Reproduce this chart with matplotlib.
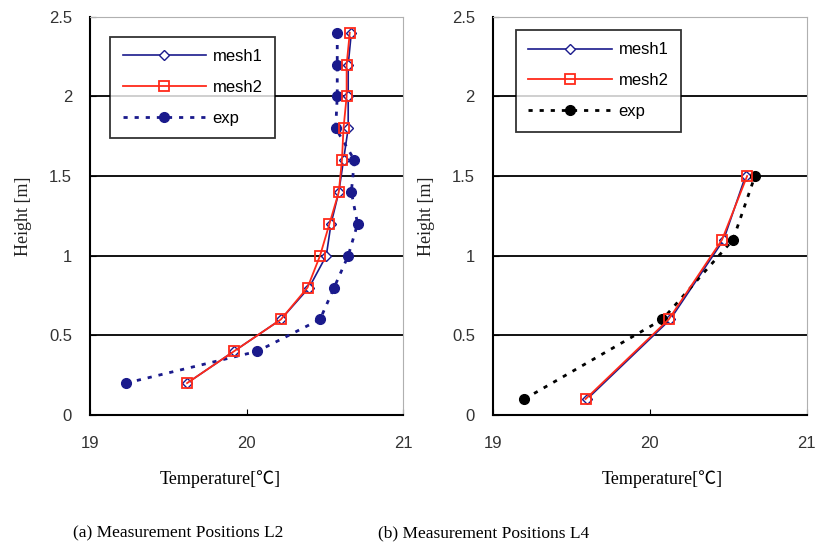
import numpy as np
import matplotlib
matplotlib.use('Agg')
import matplotlib.pyplot as plt

# L2 data (temperature vs height)
h_l2 = [0.2, 0.4, 0.6, 0.8, 1.0, 1.2, 1.4, 1.6, 1.8, 2.0, 2.2, 2.4]
mesh1_l2 = [19.62, 19.92, 20.22, 20.40, 20.51, 20.54, 20.59, 20.62, 20.65, 20.65, 20.65, 20.67]
mesh2_l2 = [19.62, 19.92, 20.22, 20.39, 20.47, 20.53, 20.59, 20.61, 20.62, 20.64, 20.64, 20.66]
exp_l2 = [19.23, 20.07, 20.47, 20.56, 20.65, 20.71, 20.67, 20.69, 20.57, 20.58, 20.58, 20.58]

# L4 data
h_l4 = [0.1, 0.6, 1.1, 1.5]
mesh1_l4 = [19.60, 20.13, 20.47, 20.61]
mesh2_l4 = [19.59, 20.12, 20.46, 20.62]
exp_l4 = [19.20, 20.08, 20.53, 20.67]

yticks = [0, 0.5, 1, 1.5, 2, 2.5]
xticks = [19, 20, 21]

navy = '#1a1a8c'
red = '#ff2a1a'

fig = plt.figure(figsize=(8.19, 5.5), dpi=100)
ax1 = fig.add_axes([0.110, 0.2455, 0.382, 0.724])
ax2 = fig.add_axes([0.602, 0.2455, 0.383, 0.724])

tick_font = {'family': 'Liberation Sans', 'size': 12}
serif = ['Liberation Serif', 'Noto Sans CJK JP']


def setup(ax, h, m1, m2, ex, exp_color, anchor):
    for y in [0.5, 1.0, 1.5, 2.0]:
        ax.axhline(y, color='black', lw=1.3, zorder=1)
    ax.plot(m1, h, color=navy, lw=1.2, marker='D', ms=5, mfc='white',
            mec=navy, mew=1.0, label='mesh1', zorder=3)
    ax.plot(m2, h, color=red, lw=1.3, marker='s', ms=7, mfc='none',
            mec=red, mew=1.3, label='mesh2', zorder=4)
    ax.plot(ex, h, color=exp_color, lw=2.0, ls=(0, (1.5, 2.5)), marker='o',
            ms=7, mfc=exp_color, mec=exp_color, label='exp', zorder=3)
    ax.set_xlim(19, 21)
    ax.set_ylim(0, 2.5)
    ax.set_xticks(xticks)
    ax.set_yticks(yticks)
    ax.set_xticklabels([str(t) for t in xticks], fontdict=tick_font, color='#333333')
    ax.set_yticklabels(['0', '0.5', '1', '1.5', '2', '2.5'], fontdict=tick_font, color='#333333')
    ax.tick_params(axis='x', direction='in', length=4, pad=15, top=False)
    ax.tick_params(axis='y', direction='in', length=4, pad=13)
    ax.spines['left'].set_linewidth(1.5)
    ax.spines['bottom'].set_linewidth(1.5)
    ax.spines['top'].set_color('#b0b0b0')
    ax.spines['right'].set_color('#b0b0b0')
    leg = ax.legend(loc='upper left', bbox_to_anchor=anchor, frameon=True,
                    fancybox=False, edgecolor='black', handlelength=5.0,
                    prop={'family': 'Liberation Sans', 'size': 12},
                    labelspacing=0.95, borderpad=0.75, handletextpad=0.4,
                    borderaxespad=0)
    leg.get_frame().set_linewidth(1.3)
    leg.set_zorder(10)
    ax.set_ylabel('Height [m]', family=serif, fontsize=13, color='#222222', labelpad=12)


setup(ax1, h_l2, mesh1_l2, mesh2_l2, exp_l2, navy, (0.064, 0.95))
setup(ax2, h_l4, mesh1_l4, mesh2_l4, exp_l4, 'black', (0.073, 0.967))

fig.text(0.269, 0.129, 'Temperature[℃]', family=serif, fontsize=13, ha='center', va='center')
fig.text(0.808, 0.129, 'Temperature[℃]', family=serif, fontsize=13, ha='center', va='center')

fig.text(0.089, 0.031, '(a) Measurement Positions L2', family=serif, fontsize=12.5, va='center')
fig.text(0.462, 0.031, '(b) Measurement Positions L4', family=serif, fontsize=12.5, va='center')

fig.savefig('out.png', dpi=100)
